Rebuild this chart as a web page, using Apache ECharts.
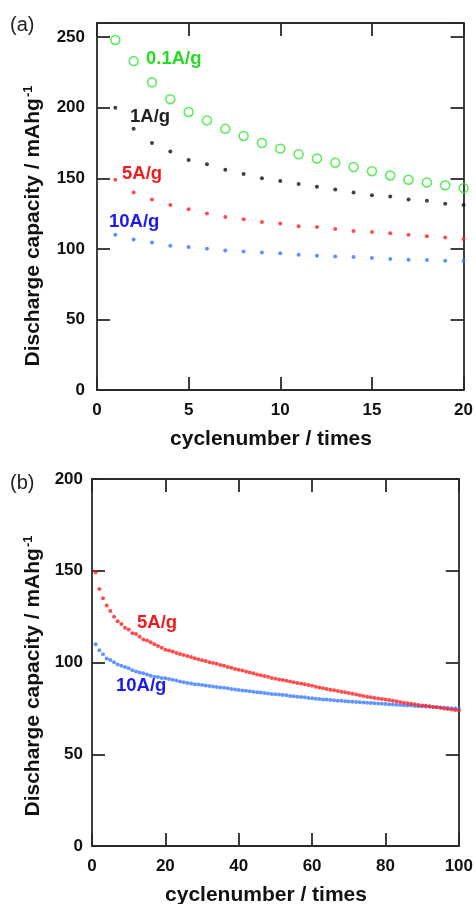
<!DOCTYPE html>
<html>
<head>
<meta charset="utf-8">
<script src="https://cdn.jsdelivr.net/npm/echarts@6/dist/echarts.min.js"></script>
<style>
html,body{margin:0;padding:0;background:#fff;}
#chart{width:476px;height:904px;}
</style>
</head>
<body>
<div id="chart"></div>
<script>
// (a) 倍率性能 1-20 圈
var cyclesA = [1,2,3,4,5,6,7,8,9,10,11,12,13,14,15,16,17,18,19,20];
var cap01 = [248,233,218,206,197,191,185,180,175,171,167,164,161,158,155,152,149,147,145,143];
var cap1 = [200,185,175,169,163,160,156,153,150,148,146,144,142,140,138,137,135,134,132,131];
var cap5 = [149,140,135,131,128,125,122.5,121,119,118,116,115.5,114,112.6,112,111,110,109,108,107];
var cap10 = [110,106.7,104.5,102.2,101.3,100.1,98.9,98.2,97.5,96.8,95.8,95.1,94.6,94.2,93.5,92.8,92.3,92.1,91.6,91.4];

// (b) 长循环 1-100 圈
var cyclesB = [];
for (var c = 1; c <= 100; c++) { cyclesB.push(c); }
var long5 = [149,140,135,131,128,125,122.5,121,119,118,116,115.5,114,112.6,112,111,110,109,108,107,
	106.5,106,105.2,104.6,104.1,103.6,103,102.3,101.8,101.2,100.8,100.2,99.7,99.3,98.7,98.2,97.6,97.1,96.5,96,
	95.6,95.1,94.6,94.1,93.5,93.1,92.7,92.2,91.6,91.1,90.8,90.4,90,89.6,89.2,88.8,88.5,88.1,87.7,87.3,
	86.8,86.4,85.9,85.6,85.2,84.9,84.5,84.1,83.8,83.4,83,82.6,82.2,81.8,81.4,81,80.7,80.4,80.1,79.8,
	79.5,79.2,78.9,78.5,78.1,77.8,77.5,77.2,76.9,76.6,76.4,76.1,75.8,75.6,75.3,75,74.7,74.4,74.1,73.8];
var long10 = [110,106.7,104.5,102.2,101.3,100.1,98.9,98.2,97.5,96.8,95.8,95.1,94.6,94.2,93.5,92.8,92.3,92.1,91.6,91.4,
	91,90.6,90.2,89.7,89.2,88.8,88.5,88.2,88,87.7,87.5,87.2,86.9,86.7,86.4,86.2,85.9,85.6,85.3,85,
	84.8,84.6,84.4,84.1,83.8,83.6,83.4,83.1,82.9,82.7,82.5,82.3,82.1,81.8,81.6,81.4,81.2,81,80.7,80.5,
	80.3,80.1,79.9,79.8,79.6,79.4,79.2,79.1,78.9,78.8,78.6,78.5,78.3,78.2,78,77.9,77.8,77.6,77.5,77.4,
	77.2,77.1,77,76.8,76.7,76.6,76.5,76.3,76.2,76.1,76,75.9,75.8,75.6,75.5,75.4,75.2,75.1,74.9,74.8];

var xTicksA = [0,5,10,15,20];
var yTicksA = [0,50,100,150,200,250];
var xTicksB = [0,20,40,60,80,100];
var yTicksB = [0,50,100,150,200];

var FONT = '"Liberation Sans", Arial, sans-serif';
var AXC = '#2a2a2a';

function pairs(xs, ys){
	return xs.map(function(x, i){ return [x, ys[i]]; });
}

function makeX(grid, pos, min, max, step, show){
	return {
		type: 'value', gridIndex: grid, position: pos, min: min, max: max, interval: step,
		axisLine: {show: true, onZero: false, lineStyle: {color: AXC, width: 1.8}},
		axisTick: {show: true, inside: true, length: 13, lineStyle: {color: AXC, width: 1.8}},
		axisLabel: {show: show, margin: 12, color: '#111', fontSize: 17, fontWeight: 'bold', fontFamily: FONT},
		splitLine: {show: false}
	};
}
function makeY(grid, pos, min, max, step, show, margin){
	return {
		type: 'value', gridIndex: grid, position: pos, min: min, max: max, interval: step,
		axisLine: {show: true, onZero: false, lineStyle: {color: AXC, width: 1.8}},
		axisTick: {show: true, inside: true, length: 13, lineStyle: {color: AXC, width: 1.8}},
		axisLabel: {show: show, margin: margin, color: '#111', fontSize: 17, fontWeight: 'bold', fontFamily: FONT,
			formatter: function(v){ return v % step === 0 ? v : ''; }},
		splitLine: {show: false}
	};
}

function txt(x, y, s, color, size, extra){
	var o = {
		type: 'text', x: x, y: y,
		style: {text: s, fill: color, fontSize: size, fontWeight: 'bold', fontFamily: FONT, align: 'left', verticalAlign: 'middle'}
	};
	if (extra) { for (var k in extra) { o.style[k] = extra[k]; } }
	return o;
}
function yName(x, y){
	return {
		type: 'text', x: x, y: y, rotation: Math.PI / 2,
		style: {
			text: 'Discharge capacity / mAhg{sup|-1}', fill: '#111', fontSize: 21, fontWeight: 'bold', fontFamily: FONT,
			align: 'center', verticalAlign: 'middle',
			rich: {sup: {fontSize: 13, fontWeight: 'bold', fontFamily: FONT, fill: '#111', verticalAlign: 'top', padding: [0, 0, 10, 1]}}
		}
	};
}

var chart = echarts.init(document.getElementById('chart'));
var option = {
	animation: false,
	grid: [
		{left: 97, top: 23, width: 369, height: 367},
		{left: 92, top: 479, width: 369, height: 367}
	],
	xAxis: [
		makeX(0, 'bottom', xTicksA[0], xTicksA[xTicksA.length - 1], 5, true),
		makeX(0, 'top', xTicksA[0], xTicksA[xTicksA.length - 1], 5, false),
		makeX(1, 'bottom', xTicksB[0], xTicksB[xTicksB.length - 1], 20, true),
		makeX(1, 'top', xTicksB[0], xTicksB[xTicksB.length - 1], 20, false)
	],
	yAxis: [
		makeY(0, 'left', yTicksA[0], 260, 50, true, 12),
		makeY(0, 'right', yTicksA[0], 260, 50, false, 12),
		makeY(1, 'left', yTicksB[0], yTicksB[yTicksB.length - 1], 50, true, 9),
		makeY(1, 'right', yTicksB[0], yTicksB[yTicksB.length - 1], 50, false, 9)
	],
	series: [
		{type: 'scatter', xAxisIndex: 0, yAxisIndex: 0, data: pairs(cyclesA, cap01), symbol: 'circle', symbolSize: 9,
			itemStyle: {color: 'rgba(255,255,255,0)', borderColor: '#2ee82e', borderWidth: 1.5}},
		{type: 'scatter', xAxisIndex: 0, yAxisIndex: 0, data: pairs(cyclesA, cap1), symbolSize: 4, itemStyle: {color: '#111'}},
		{type: 'scatter', xAxisIndex: 0, yAxisIndex: 0, data: pairs(cyclesA, cap5), symbolSize: 4, itemStyle: {color: '#ff2020'}},
		{type: 'scatter', xAxisIndex: 0, yAxisIndex: 0, data: pairs(cyclesA, cap10), symbolSize: 4, itemStyle: {color: '#3377ff'}},
		{type: 'scatter', xAxisIndex: 2, yAxisIndex: 2, data: pairs(cyclesB, long10), symbolSize: 4, itemStyle: {color: '#3a7cff'}},
		{type: 'scatter', xAxisIndex: 2, yAxisIndex: 2, data: pairs(cyclesB, long5), symbolSize: 4, itemStyle: {color: '#ff2020'}}
	],
	graphic: [
		{type: 'text', x: 10, y: 25, style: {text: '(a)', fill: '#222', fontSize: 20, fontFamily: FONT, align: 'left', verticalAlign: 'middle'}},
		{type: 'text', x: 10, y: 483, style: {text: '(b)', fill: '#222', fontSize: 20, fontFamily: FONT, align: 'left', verticalAlign: 'middle'}},
		yName(33, 226),
		yName(33, 676),
		txt(271, 439, 'cyclenumber / times', '#111', 21, {align: 'center'}),
		txt(266, 895, 'cyclenumber / times', '#111', 21, {align: 'center'}),
		txt(146, 59, '0.1A/g', '#22dd22', 18.5),
		txt(130, 117, '1A/g', '#222', 18.5),
		txt(122, 174, '5A/g', '#ee1c1c', 18.5),
		txt(109, 222, '10A/g', '#1a1aee', 18.5),
		txt(137, 623, '5A/g', '#ee1c1c', 18.5),
		txt(116, 686, '10A/g', '#1a1aee', 18.5)
	]
};
chart.setOption(option);
</script>
</body>
</html>
